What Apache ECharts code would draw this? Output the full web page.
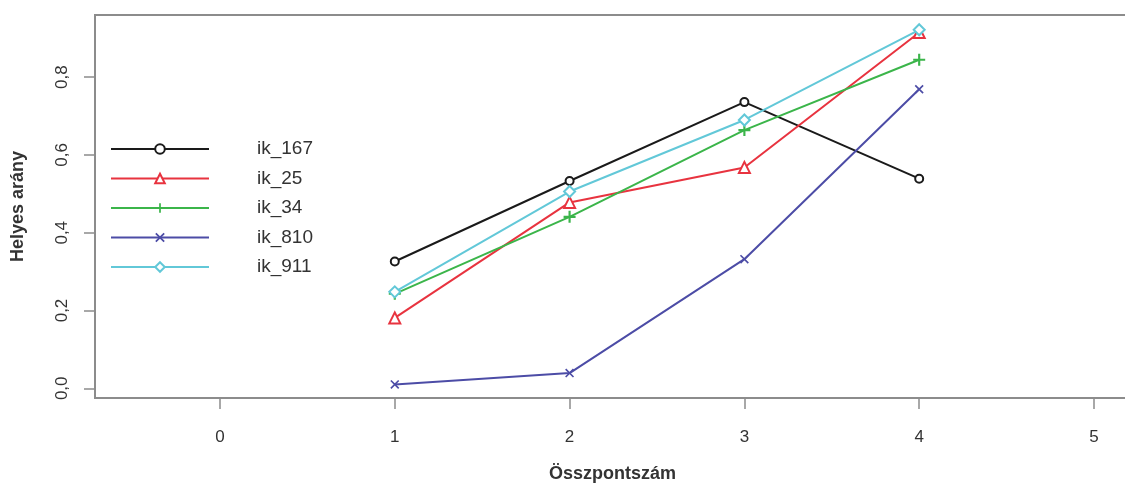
<!DOCTYPE html>
<html>
<head>
<meta charset="utf-8">
<script src="https://cdn.jsdelivr.net/npm/echarts@6/dist/echarts.min.js"></script>
<style>html,body{margin:0;padding:0;background:#fff}#c{width:1125px;height:484px}</style>
</head>
<body>
<div id="c"></div>
<script>
const xValues = [1, 2, 3, 4];
const seriesNames = ['ik_167', 'ik_25', 'ik_34', 'ik_810', 'ik_911'];
const ik_167 = [0.326, 0.533, 0.736, 0.539];
const ik_25  = [0.181, 0.478, 0.568, 0.915];
const ik_34  = [0.243, 0.441, 0.664, 0.845];
const ik_810 = [0.010, 0.039, 0.332, 0.769];
const ik_911 = [0.248, 0.506, 0.690, 0.922];
const xTicks = [0, 1, 2, 3, 4, 5];
const yTicks = [0, 0.2, 0.4, 0.6, 0.8];
const xTitle = 'Összpontszám';
const yTitle = 'Helyes arány';

const colors = ['#1a1a1a', '#e8333f', '#3bb54a', '#4c4ca6', '#62c8d8'];
const PLUS = 'path://M4.1,0h1.8v10h-1.8z M0,4.1h10v1.8h-10z';
const CROSS = 'path://M0,1.3L1.3,0L10,8.7L8.7,10Z M8.7,0L10,1.3L1.3,10L0,8.7Z';
const symbols = ['emptyCircle', 'emptyTriangle', PLUS, CROSS, 'emptyDiamond'];
const sizes = [8, 11, 12, 9, 11];
const borders = [1.6, 1.6, 0, 0, 1.6];
const allData = [ik_167, ik_25, ik_34, ik_810, ik_911];

const series = seriesNames.map((name, i) => ({
  name: name,
  type: 'line',
  data: xValues.map((x, j) => [x, allData[i][j]]),
  symbol: symbols[i],
  symbolSize: sizes[i],
  showAllSymbol: true,
  lineStyle: { color: colors[i], width: 2 },
  itemStyle: { color: colors[i], borderColor: colors[i], borderWidth: borders[i] },
  emphasis: { disabled: true },
  z: 2 + i
}));

const font = 'Liberation Sans';
const chart = echarts.init(document.getElementById('c'), null, { renderer: 'canvas' });
chart.setOption({
  animation: false,
  backgroundColor: '#fff',
  grid: {
    left: 95, top: 15, right: -5, bottom: 86,
    outerBoundsMode: 'none', containLabel: false,
    show: true, borderColor: '#8c8c8c', borderWidth: 2, backgroundColor: '#fff'
  },
  xAxis: {
    type: 'value', min: -0.715, max: 5.206,
    name: xTitle, nameLocation: 'middle', nameGap: 67,
    nameTextStyle: { fontFamily: font, fontSize: 18, fontWeight: 'bold', color: '#333' },
    axisLine: { show: false, onZero: false },
    axisTick: { show: true, customValues: xTicks, length: 11, lineStyle: { color: '#8c8c8c', width: 1.5 } },
    axisLabel: { customValues: xTicks, margin: 31, fontFamily: font, fontSize: 17, color: '#333', formatter: v => String(v) },
    splitLine: { show: false }
  },
  yAxis: {
    type: 'value', min: -0.025, max: 0.960,
    name: yTitle, nameLocation: 'middle', nameGap: 68, nameRotate: 90,
    nameTextStyle: { fontFamily: font, fontSize: 18, fontWeight: 'bold', color: '#333' },
    axisLine: { show: false, onZero: false },
    axisTick: { show: true, customValues: yTicks, length: 11, lineStyle: { color: '#8c8c8c', width: 1.5 } },
    axisLabel: { customValues: yTicks, rotate: 90, margin: 24, fontFamily: font, fontSize: 17, color: '#333',
      formatter: v => v.toFixed(1).replace('.', ',') },
    splitLine: { show: false }
  },
  legend: {
    data: seriesNames,
    orient: 'vertical', left: 105, top: 134,
    itemWidth: 98, itemHeight: 12, itemGap: 9.5,
    textStyle: { fontFamily: font, fontSize: 19, color: '#333', lineHeight: 20, padding: [0, 0, 0, 43] },
    selectedMode: false
  },
  series: series
});
</script>
</body>
</html>
